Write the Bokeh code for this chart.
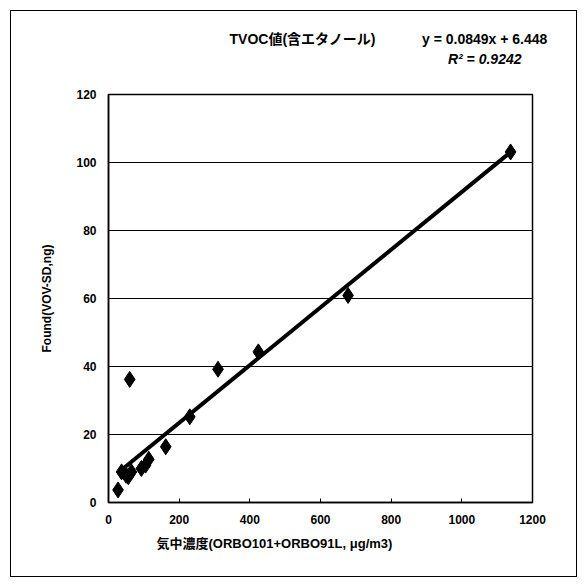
from bokeh.plotting import figure
from bokeh.models import FixedTicker, Title
from bokeh.embed import file_html
from bokeh.resources import INLINE

# data
x_vals = [27, 37, 50, 56, 65, 60, 93, 105, 114, 162, 230, 310, 424, 678, 1138]
y_vals = [3.7, 9.0, 8.0, 7.6, 9.0, 36.2, 10.0, 11.0, 12.7, 16.4, 25.2, 39.2, 44.3, 60.9, 103.1]
slope = 0.0849
intercept = 6.448
r_squared = 0.9242
x_ticks = [0, 200, 400, 600, 800, 1000, 1200]
y_ticks = [0, 20, 40, 60, 80, 100, 120]
title_text = "TVOC値(含エタノール)"
x_title = "気中濃度(ORBO101+ORBO91L, μg/m3)"
y_title = "Found(VOV-SD,ng)"

FONT = "Liberation Sans, Noto Sans CJK JP"

# page geometry (pixels from top-left of window)
OUT_L, OUT_T, OUT_R, OUT_B = 10, 10, 577, 577
FR_L, FR_T, FR_R, FR_B = 107, 93, 531, 501

p = figure(width=OUT_R - OUT_L, height=OUT_B - OUT_T, x_range=(0, 1200), y_range=(0, 120),
           output_backend="svg", toolbar_location=None, title=None,
           margin=(OUT_T, 0, 0, OUT_L),
           min_border_left=FR_L - OUT_L, min_border_right=OUT_R - FR_R,
           min_border_top=FR_T - OUT_T, min_border_bottom=OUT_B - FR_B,
           styles={"border": "1.5px solid black", "box-sizing": "border-box"})
p.background_fill_color = "white"
p.border_fill_color = "white"
p.outline_line_color = "black"
p.outline_line_width = 1.5

p.xgrid.grid_line_color = None
p.ygrid.grid_line_color = "black"
p.ygrid.grid_line_width = 1.2

for ax in (p.xaxis, p.yaxis):
    ax.axis_line_color = "black"
    ax.axis_line_width = 1.5
    ax.major_tick_in = 4
    ax.major_tick_out = 0
    ax.minor_tick_line_color = None
    ax.major_label_text_font = FONT
    ax.major_label_text_font_style = "bold"
    ax.major_label_text_font_size = "12px"
    ax.major_label_text_color = "black"
    ax.major_label_standoff = 12

p.xaxis.ticker = FixedTicker(ticks=x_ticks)
p.yaxis.ticker = FixedTicker(ticks=y_ticks)

# trendline
x_line = [min(x_vals), max(x_vals)]
y_line = [slope * v + intercept for v in x_line]
p.line(x_line, y_line, line_color="black", line_width=4)

p.scatter(x_vals, y_vals, marker="diamond", size=16, fill_color="black", line_color="black")

NB = "\u00a0"
eq_text = "y = %.4fx + %.3f" % (slope, intercept)
r2_text = "R² = %.4f" % r_squared

# titles above: first added is closest to the frame
p.add_layout(Title(text=r2_text, align="right", offset=11, standoff=56,
                   text_font=FONT, text_font_style="bold italic", text_font_size="14px",
                   text_color="black"), "above")
p.add_layout(Title(text=title_text + NB * 12 + eq_text, align="left", offset=121,
                   standoff=-52, text_font=FONT, text_font_style="bold", text_font_size="14px",
                   text_color="black"), "above")

# axis titles
p.add_layout(Title(text=x_title, align="left", offset=48, standoff=14,
                   text_font=FONT, text_font_style="bold", text_font_size="13px",
                   text_color="black"), "below")
p.add_layout(Title(text=y_title, align="center", standoff=40,
                   text_font=FONT, text_font_style="bold", text_font_size="12px",
                   text_color="black"), "left")

open("out.html", "w").write(file_html(p, INLINE))
